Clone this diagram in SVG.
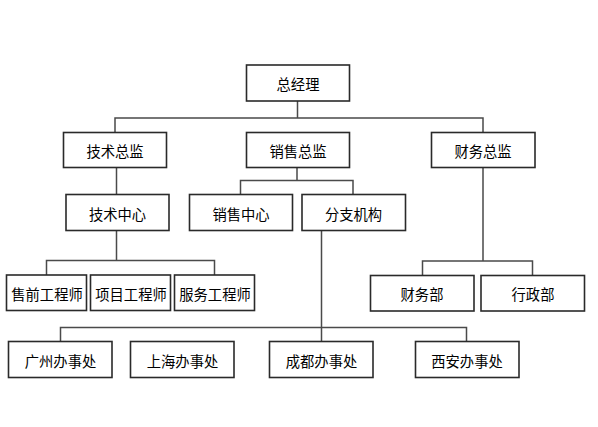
<svg xmlns="http://www.w3.org/2000/svg" width="598" height="427" viewBox="0 0 598 427">
<style>
.box{fill:#fff;stroke:#2a2a2a;stroke-width:1.6}
.lbl{font-family:"Noto Sans CJK SC","Liberation Sans",sans-serif;font-size:14.3px;fill:#000;text-anchor:middle}
.conn{fill:none;stroke:#4a4a4a;stroke-width:1.5}
</style>
<rect width="598" height="427" fill="#fff"/>
<g id="connectors">
<path class="conn" d="M297.5,101 V118 M115,132.5 V118 H483 V132.5"/>
<path class="conn" d="M116.5,167.5 V194.5"/>
<path class="conn" d="M297,167.5 V180.5 M240.5,194.5 V180.5 H353 V194.5"/>
<path class="conn" d="M116.5,230.5 V260.5 M46.5,275 V260.5 H214.5 V275"/>
<path class="conn" d="M483,167.5 V261 M422.5,275.5 V261 H532.5 V275.5"/>
<path class="conn" d="M321.5,230.5 V341.5 M60.5,341.5 V327.5 H466.5 V341.5"/>
</g>
<g id="n1"><rect class="box" x="246.5" y="65" width="103" height="36"/><text class="lbl" x="298" y="90">总经理</text></g>
<g id="n2"><rect class="box" x="63.5" y="132.5" width="103" height="35"/><text class="lbl" x="115" y="157">技术总监</text></g>
<g id="n3"><rect class="box" x="246.5" y="132.5" width="103" height="35"/><text class="lbl" x="298" y="157">销售总监</text></g>
<g id="n4"><rect class="box" x="431.5" y="132.5" width="103.5" height="35"/><text class="lbl" x="483" y="157">财务总监</text></g>
<g id="n5"><rect class="box" x="66" y="194.5" width="103" height="36"/><text class="lbl" x="117.5" y="219.5">技术中心</text></g>
<g id="n6"><rect class="box" x="189.5" y="194.5" width="103" height="36"/><text class="lbl" x="241" y="219.5">销售中心</text></g>
<g id="n7"><rect class="box" x="302" y="194.5" width="103.5" height="36"/><text class="lbl" x="353.5" y="219.5">分支机构</text></g>
<g id="n8"><rect class="box" x="6.5" y="275" width="80" height="35.5"/><text class="lbl" x="47" y="299.5">售前工程师</text></g>
<g id="n9"><rect class="box" x="90.5" y="275" width="80" height="35.5"/><text class="lbl" x="131" y="299.5">项目工程师</text></g>
<g id="n10"><rect class="box" x="174.5" y="275" width="80" height="35.5"/><text class="lbl" x="215" y="299.5">服务工程师</text></g>
<g id="n11"><rect class="box" x="370.5" y="275.5" width="103.5" height="35.5"/><text class="lbl" x="422" y="300">财务部</text></g>
<g id="n12"><rect class="box" x="481" y="275.5" width="103.5" height="35.5"/><text class="lbl" x="533" y="300">行政部</text></g>
<g id="n13"><rect class="box" x="8.5" y="341.5" width="103.5" height="36"/><text class="lbl" x="60.5" y="366.5">广州办事处</text></g>
<g id="n14"><rect class="box" x="130.5" y="341.5" width="103.5" height="36"/><text class="lbl" x="182.5" y="366.5">上海办事处</text></g>
<g id="n15"><rect class="box" x="269.5" y="341.5" width="103.5" height="36"/><text class="lbl" x="321.5" y="366.5">成都办事处</text></g>
<g id="n16"><rect class="box" x="415.5" y="341.5" width="103.5" height="36"/><text class="lbl" x="467" y="366.5">西安办事处</text></g>
</svg>
